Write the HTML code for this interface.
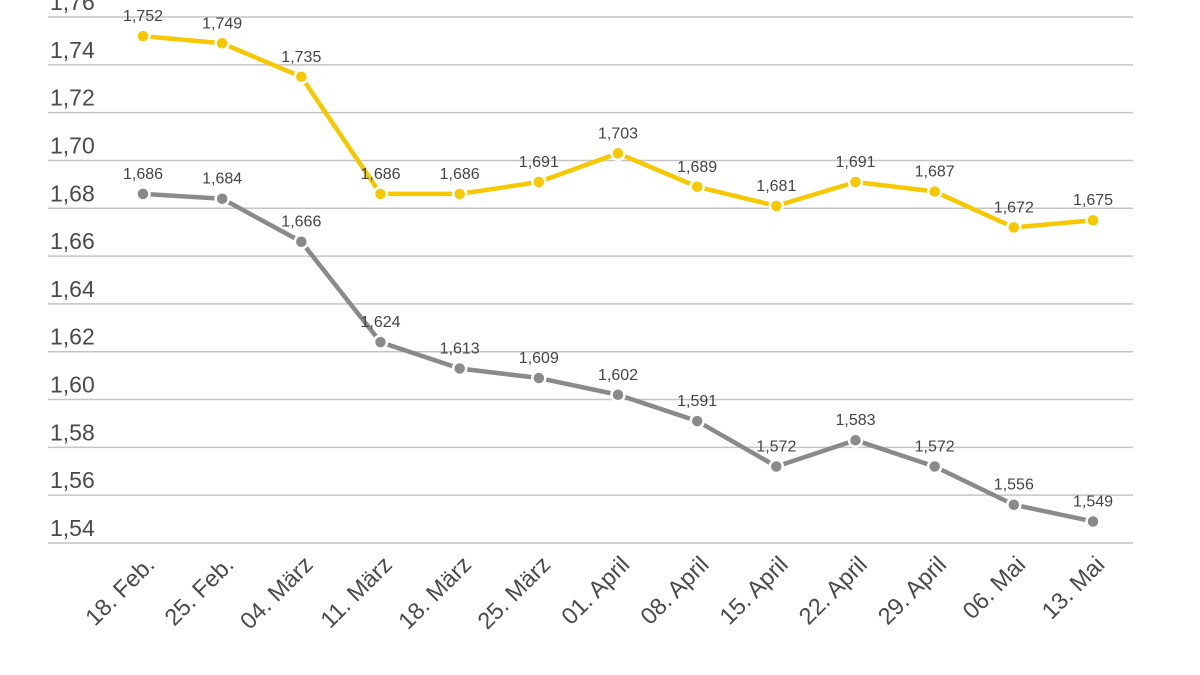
<!DOCTYPE html>
<html><head><meta charset="utf-8"><style>
html,body{margin:0;padding:0;background:#fff;}
svg{display:block;font-family:"Liberation Sans","DejaVu Sans",sans-serif;}
</style></head><body>
<svg id="chart" width="1200" height="675" viewBox="0 0 1200 675"></svg>
<script>
const categories = ["18. Feb.","25. Feb.","04. März","11. März","18. März","25. März","01. April","08. April","15. April","22. April","29. April","06. Mai","13. Mai"];
const seriesYellow = [1.752,1.749,1.735,1.686,1.686,1.691,1.703,1.689,1.681,1.691,1.687,1.672,1.675];
const seriesGray = [1.686,1.684,1.666,1.624,1.613,1.609,1.602,1.591,1.572,1.583,1.572,1.556,1.549];
const yTicks = [1.54,1.56,1.58,1.60,1.62,1.64,1.66,1.68,1.70,1.72,1.74,1.76];

const NS="http://www.w3.org/2000/svg";
const svg=document.getElementById('chart');
const yMin=1.54,yMax=1.76,yBot=543,yTop=17;
const y=v=>yBot-(v-yMin)/(yMax-yMin)*(yBot-yTop);
const x0=143,x1=1093;
const x=i=>x0+i*(x1-x0)/(categories.length-1);
function mk(tag,attrs,parent){const e=document.createElementNS(NS,tag);for(const k in attrs)e.setAttribute(k,attrs[k]);(parent||svg).appendChild(e);return e;}

const grid=mk('g',{});


yTicks.forEach(t=>{
  const l=mk('line',{x1:48,x2:1133,y1:y(t),y2:y(t),stroke:'#c4c4c4','stroke-width':1.5},grid);
  
  
  const tx=mk('text',{x:50,y:y(t)-7,'font-size':23,fill:'#4a4a4a'},grid);
  tx.textContent=t.toFixed(2).replace('.',',');
  
  
});

const xa=mk('g',{});


categories.forEach((c,i)=>{
  const tx=mk('text',{x:0,y:0,'font-size':23.5,fill:'#4a4a4a','text-anchor':'end',transform:`translate(${x(i)+13},${566}) rotate(-45)`},xa);
  tx.textContent=c;
  
  
});

function drawSeries(vals,color,name){
  const g=mk('g',{});
  
  
  const pts=vals.map((v,i)=>x(i)+','+y(v)).join(' ');
  const pl=mk('polyline',{points:pts,fill:'none',stroke:color,'stroke-width':4.5,'stroke-linejoin':'round'},g);
  
  
  vals.forEach((v,i)=>{
    const c=mk('circle',{cx:x(i),cy:y(v),r:6.5,fill:color,stroke:'#fff','stroke-width':2.5},g);
    
    
    const t=mk('text',{x:x(i),y:y(v)-15,'font-size':16,fill:'#444','text-anchor':'middle'},g);
    t.textContent=v.toFixed(3).replace('.',',');
    
    
  });
}
drawSeries(seriesGray,'#8a8a8a','gray-series');
drawSeries(seriesYellow,'#f5c800','yellow-series');
</script>
</body></html>
